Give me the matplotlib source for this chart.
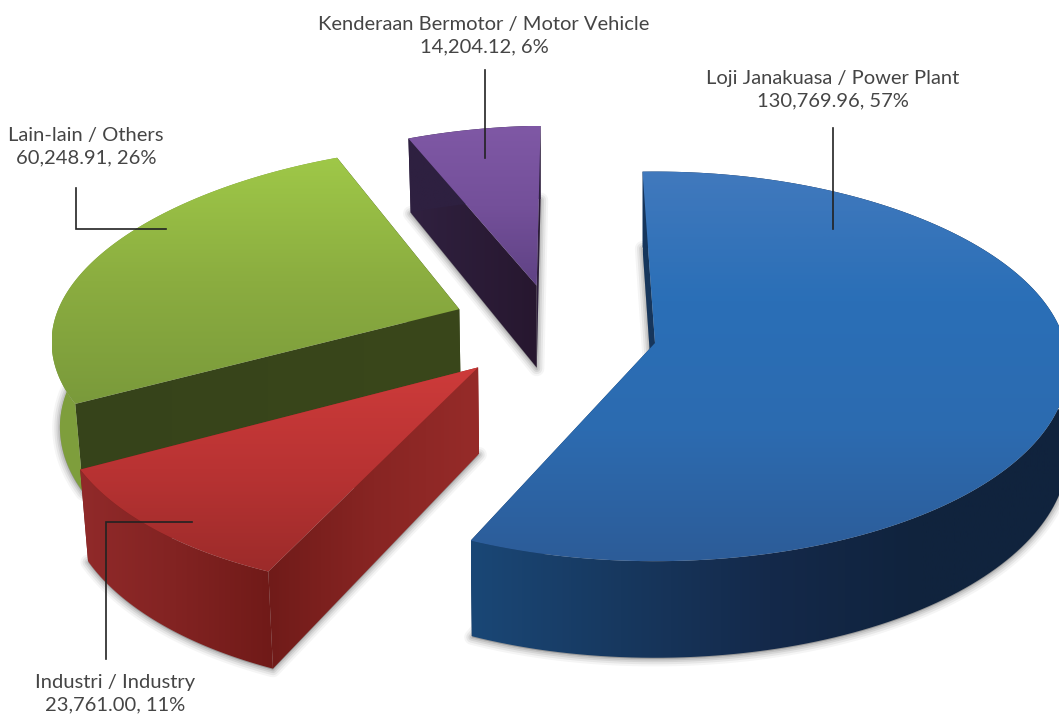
import numpy as np
import matplotlib
matplotlib.use('Agg')
import matplotlib.pyplot as plt
from matplotlib.colors import LinearSegmentedColormap
from matplotlib.patches import Polygon

names = ['Loji Janakuasa / Power Plant', 'Industri / Industry', 'Lain-lain / Others', 'Kenderaan Bermotor / Motor Vehicle']
values = [130769.96, 23761.00, 60248.91, 14204.12]
percents = [57, 11, 26, 6]

# how far each slice is pulled out of the pie, in pie radii
explode_x = [0, -0.425, -0.488, -0.30]
explode_y = [0, -0.125, 0.18, 0.31]

top_colors = [['#4179bd', '#2a6fb7', '#2c6bb0', '#2d5c98'],
              ['#cd3b3a', '#b93333', '#9c2b2a'],
              ['#9fc848', '#8bad40', '#7a9a3b'],
              ['#7f58a5', '#74509a', '#5f4284']]
rim_colors = [['#1a4776', '#17385f', '#14294a', '#10233d', '#10233d'],
              ['#912a2a', '#822322', '#701a18'],
              ['#7f9f3d', '#7c9c3b'],
              ['#2e2040', '#2e2040']]
side_colors = [['#16365c', '#16365c'],
               ['#701b19', '#882523', '#962b29'],
               ['#36431a', '#3a471b'],
               ['#302140', '#27172f']]

# label position, then the leader line
label_xy = [(833, 90), (115, 694), (86, 147), (484, 36)]
leader_x = [[833, 833], [105.5, 105.5, 191.5], [75.5, 75.5, 166], [484.5, 484.5]]
leader_y = [[128, 229], [659, 522, 522], [188, 228.5, 228.5], [70, 158]]

# projection of the tilted pie onto the page
X0, Y0 = 655, 343
RX, RY = 410, 192
TILT = 0.12
DEPTH = 85
LEAN = 0.017


def project(u, v):
    w = 1 + TILT * v
    # the far side narrows a little faster than it flattens
    wx = w + 0.025 * np.maximum(v, 0) ** 2
    return X0 + RX * u / wx, Y0 - RY * v / w


def drop(x, y, v):
    # the point under (x, y) on the floor of the slice
    return x + LEAN * np.maximum(0, 540 - x), y + DEPTH / (1 + TILT * v)


def fill_gradient(ax, verts, stops, horizontal, z):
    cmap = LinearSegmentedColormap.from_list('g', stops)
    grad = np.linspace(0, 1, 256)
    grad = grad.reshape(1, -1) if horizontal else grad.reshape(-1, 1)
    xmin, ymin = verts.min(axis=0)
    xmax, ymax = verts.max(axis=0)
    im = ax.imshow(grad, extent=[xmin, xmax, ymax, ymin], cmap=cmap, aspect='auto', zorder=z)
    im.set_clip_path(Polygon(verts, transform=ax.transData))


fig = plt.figure(figsize=(10.59, 7.15), dpi=100)
ax = fig.add_axes([0, 0, 1, 1])
wedges, _ = ax.pie(values, startangle=92, counterclock=False)
angles = [(w.theta1, w.theta2) for w in wedges]
for w in wedges:
    w.remove()
ax.set_aspect('auto')

draw_order = [3, 2, 0, 1]
z = 2
for i in draw_order:
    t = np.radians(np.linspace(angles[i][0], angles[i][1], 160))
    u = np.r_[explode_x[i], explode_x[i] + np.cos(t)]
    v = np.r_[explode_y[i], explode_y[i] + np.sin(t)]
    x, y = project(u, v)
    bx, by = drop(x, y, v)
    top = np.c_[x, y]
    floor = np.c_[bx, by]

    # soft shadow round the floor of the slice
    for lw, a in [(11, 0.06), (8, 0.09), (5, 0.12), (2.5, 0.15)]:
        ax.add_patch(Polygon(floor + [0, 1], closed=True, fc='#555555', ec='#555555', lw=lw,
                             alpha=a, joinstyle='round', zorder=z))
    z += 1

    # the two cut faces, then the rim over them, then the top
    for end in (1, len(x) - 1):
        side = np.array([top[0], top[end], floor[end], floor[0]])
        fill_gradient(ax, side, side_colors[i], True, z)
        z += 1
    rim = np.r_[top[1:], floor[:0:-1]]
    fill_gradient(ax, rim, rim_colors[i], True, z)
    z += 1
    fill_gradient(ax, top, top_colors[i], False, z)
    z += 1

for i in range(len(names)):
    ax.plot(leader_x[i], leader_y[i], color='#222222', lw=1.2, solid_joinstyle='miter', zorder=z)
    ax.text(label_xy[i][0], label_xy[i][1], f'{names[i]}\n{values[i]:,.2f}, {percents[i]}%',
            ha='center', va='center', fontsize=14.5, family='Lato', color='#454545',
            linespacing=1.4, zorder=z)

ax.set_xlim(0, 1059)
ax.set_ylim(715, 0)
ax.axis('off')
fig.savefig('out.png', dpi=100)
